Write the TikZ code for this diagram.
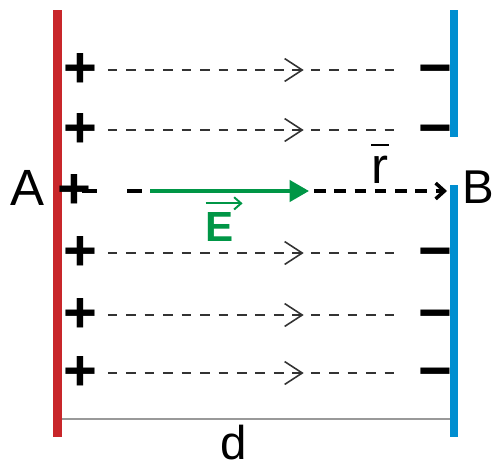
\documentclass[tikz,border=0pt]{standalone}
\usepackage{fontspec}
\setmainfont{Liberation Sans}
\usetikzlibrary{arrows.meta,decorations.markings}

\definecolor{plusred}{RGB}{200,38,42}
\definecolor{minusblue}{RGB}{0,142,208}
\definecolor{fieldgreen}{RGB}{0,150,70}

\tikzset{
  sign/.style={font=\fontsize{33}{33}\selectfont\bfseries, inner sep=0pt},
  lbl/.style={font=\fontsize{29}{30}\selectfont, inner sep=0pt},
  fieldline/.style={draw=black!80, line width=0.8pt, dash pattern=on 5.5pt off 5pt,
    postaction={decorate},
    decoration={markings, mark=at position 0.67 with
      {\arrow[black!80, line width=0.9pt]{Straight Barb[length=10pt,width=13pt]}}}},
  chargeline/.style={draw=black, line width=2pt},
}

\begin{document}
\begin{tikzpicture}[x=0.02cm, y=-0.02cm]
    \useasboundingbox (0,0) rectangle (493,463);
    % distance d
    \coordinate (dl) at (57.5,419);
    \coordinate (dr) at (454,419);
    \draw[black!40, line width=1.1pt] (dl) -- (dr);
    \node[lbl, font=\fontsize{27}{28}\selectfont, anchor=base] (dlbl) at (234,459) {d};
    % plates
    \draw[plusred, line width=4.6pt] (57.5,10) -- (57.5,437);
    \draw[minusblue, line width=4.6pt] (454,10) -- (454,137);
    \draw[minusblue, line width=4.6pt] (454,185) -- (454,437);
    \node[lbl] (A) at (27,188) {A};
    \node[lbl, font=\fontsize{27}{28}\selectfont, anchor=west] (B) at (462,187) {B};
    % field lines
    \foreach \i/\y in {1/70,2/130,4/253,5/315,6/373} {
      \node[sign] (p\i) at (80,\y) {+};
      \node[sign, anchor=base] (m\i) at (435,\y+17) {−};
      \draw[fieldline] ([xshift=6pt]p\i.east) -- ([xshift=-10pt]m\i.west |- p\i);
    }
    % middle line A -> B
    \node[sign] (p3) at (74,191) {+};
    \coordinate (Estart) at (150,191);
    \coordinate (Eend) at (309,191);
    \coordinate (rtip) at (447,191);
    \draw[chargeline, dash pattern=on 8.5pt off 17pt] ([xshift=-5pt]p3.east) -- (Estart);
    \draw[fieldgreen, line width=2.2pt, -{Triangle[length=11pt,width=12pt]}] (Estart) -- (Eend);
    \draw[chargeline, dash pattern=on 6.5pt off 5pt, -{Straight Barb[length=5pt,width=9pt]}]
      ([xshift=3pt]Eend) -- (rtip);
    \node[lbl, font=\fontsize{24}{24}\selectfont\bfseries, text=fieldgreen] (E) at (220,227) {E};
    \draw[fieldgreen, line width=1.1pt, -{Straight Barb[length=4pt,width=7pt]}]
      ([yshift=5pt]E.north west) -- ++(37,0);
    \node[lbl] (r) at (380,170) {r};
    \draw[black, line width=1.1pt] ([yshift=6pt]r.north west) -- ([yshift=6pt]r.north east);
\end{tikzpicture}
\end{document}
